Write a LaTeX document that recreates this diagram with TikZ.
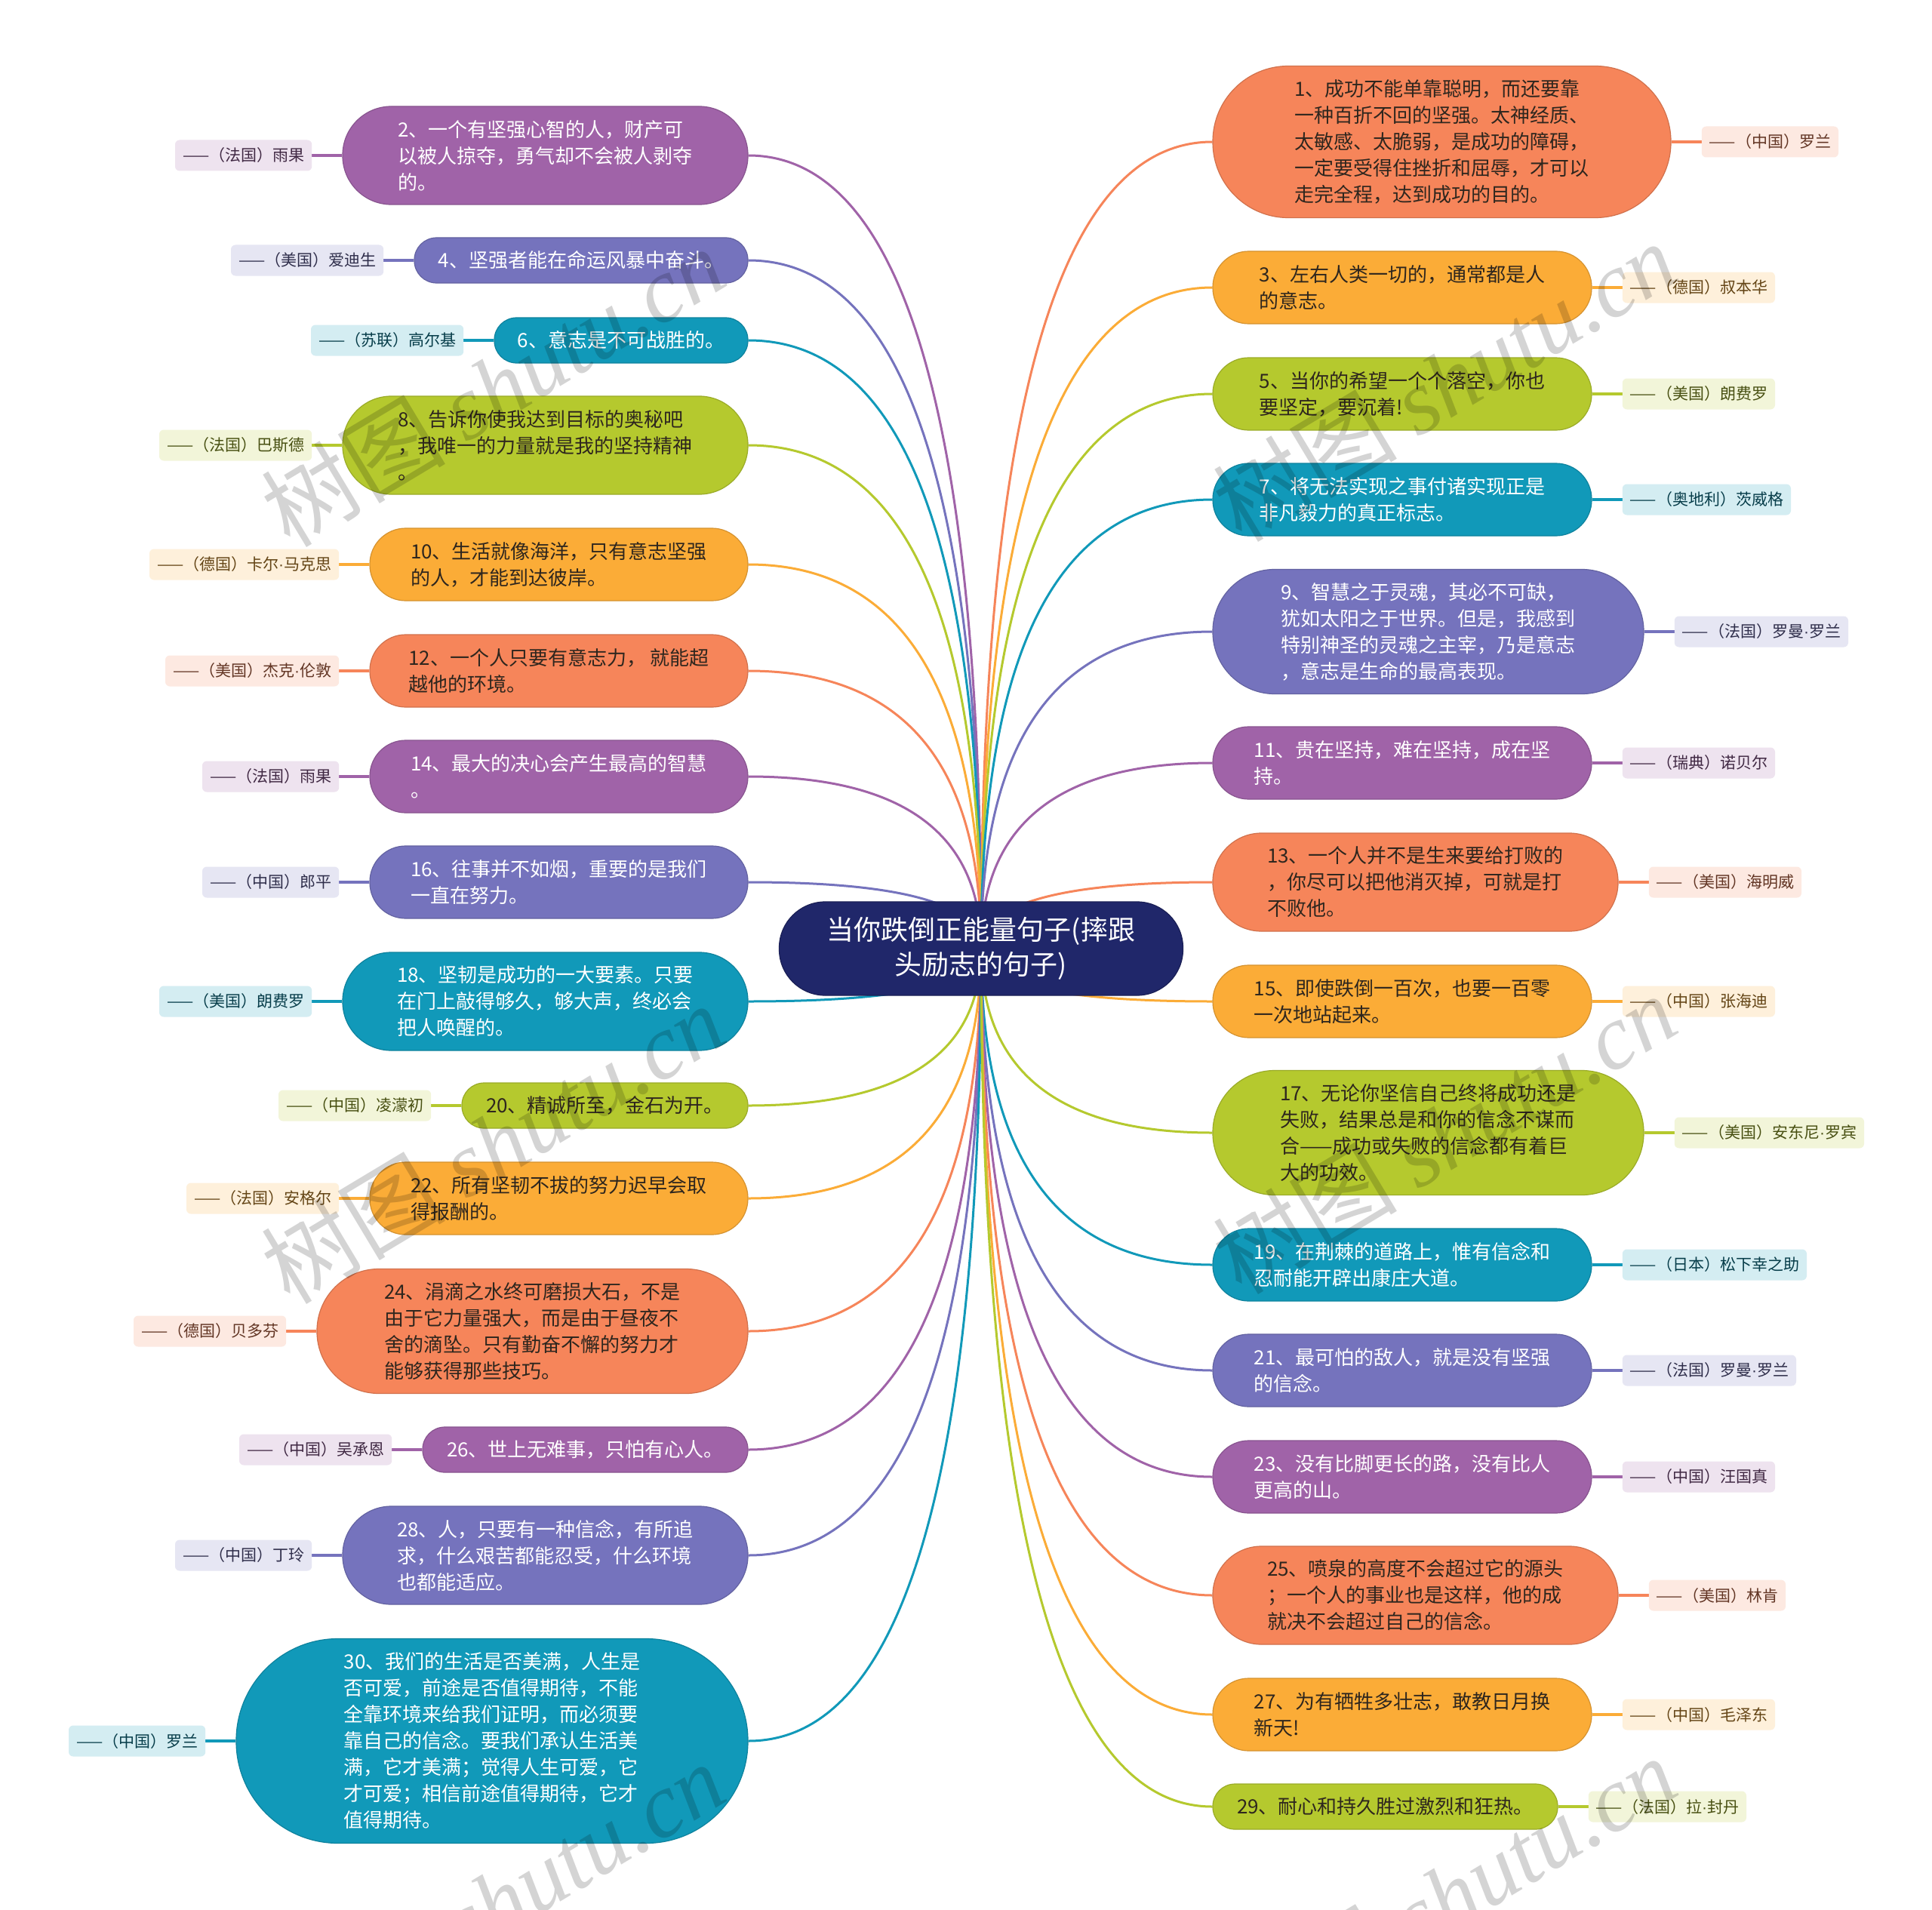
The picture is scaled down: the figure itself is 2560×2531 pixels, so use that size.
\documentclass[tikz,border=0pt]{standalone}
\usepackage{fontspec}
\setmainfont{Noto Sans CJK SC}
\newfontfamily\wmlatin{Liberation Serif}
\newfontfamily\dotfont{Liberation Sans}
\newcommand\md{{\dotfont ·}}
\usetikzlibrary{positioning,calc}
\pgfdeclarelayer{bg}\pgfdeclarelayer{fg}
\pgfsetlayers{bg,main,fg}
\definecolor{cPur}{HTML}{A063A8}
\definecolor{cBpu}{HTML}{7573BD}
\definecolor{cTea}{HTML}{1199B9}
\definecolor{cYgr}{HTML}{B5C92E}
\definecolor{cOye}{HTML}{FBAC37}
\definecolor{cOrg}{HTML}{F6855A}
\definecolor{cNavy}{HTML}{20276A}
\definecolor{cDark}{HTML}{2E261E}
\tikzset{
  bub/.style={fill=#1, draw=#1!85!black, line width=1.2pt, align=left, inner sep=0pt,
    font=\fontsize{26}{35}\selectfont},
  tc-cPur/.style={text=white}, tc-cBpu/.style={text=white}, tc-cTea/.style={text=white},
  tc-cYgr/.style={text=cDark}, tc-cOye/.style={text=cDark}, tc-cOrg/.style={text=cDark},
  hA/.style={minimum height=60, rounded corners=29.5},
  hB/.style={minimum height=96, rounded corners=47.5},
  hC/.style={minimum height=130, rounded corners=64.5},
  hD/.style={minimum height=165, rounded corners=82},
  hE/.style={minimum height=201, rounded corners=100},
  hG/.style={minimum height=271, rounded corners=135},
  lab/.style={fill=#1!18, text=#1!40!black, rounded corners=6, minimum height=41,
    inner xsep=10, inner ysep=0, font=\fontsize{21}{24}\selectfont},
  cv/.style={draw=#1, line width=3pt},
  mm/.style={to path={.. controls ($(\tikztostart)!0.6667!(\tikztostart|-\tikztotarget)$)
     and ($(\tikztotarget)!0.6667!(\tikztostart|-\tikztotarget)$) .. (\tikztotarget)}},
  wm/.style={text=black, text opacity=0.17, font=\fontsize{122}{122}\selectfont, inner sep=0pt}
}
% name, color, cx, cy, width, height style, text, label
\newcommand\leftitem[8]{%
  \node[bub=#2, tc-#2, #6, minimum width=#5] (#1) at (#3,#4) {#7};
  \node[lab=#2, left=40pt of #1] (#1t) {#8};
  \begin{pgfonlayer}{bg}
    \draw[cv=#2] (C.center) to[mm] (#1.east);
    \draw[cv=#2, line width=4pt] (#1.west) -- (#1t.east);
  \end{pgfonlayer}}
\newcommand\rightitem[8]{%
  \node[bub=#2, tc-#2, #6, minimum width=#5] (#1) at (#3,#4) {#7};
  \node[lab=#2, right=40pt of #1] (#1t) {#8};
  \begin{pgfonlayer}{bg}
    \draw[cv=#2] (C.center) to[mm] (#1.west);
    \draw[cv=#2, line width=4pt] (#1.east) -- (#1t.west);
  \end{pgfonlayer}}
\begin{document}
\begin{tikzpicture}[x=1pt, y=-1pt]
\useasboundingbox (0,0) rectangle (2560,2531);
\begin{pgfonlayer}{bg}
\fill[white] (0,0) rectangle (2560,2531);
\end{pgfonlayer}
\node[fill=cNavy, draw=cNavy!80!black, line width=1.2pt, text=white, align=center,
  minimum width=535, minimum height=124, rounded corners=61, inner sep=0pt,
  font=\fontsize{36}{46}\selectfont] (C) at (1300,1257) {当你跌倒正能量句子(摔跟\\头励志的句子)};
% left side
\leftitem{L2}{cPur}{722.5}{206}{537}{hC}{2、一个有坚强心智的人，财产可\\以被人掠夺，勇气却不会被人剥夺\\的。}{——（法国）雨果}
\leftitem{L4}{cBpu}{770}{345}{442}{hA}{4、坚强者能在命运风暴中奋斗。}{——（美国）爱迪生}
\leftitem{L6}{cTea}{823}{451}{336}{hA}{6、意志是不可战胜的。}{——（苏联）高尔基}
\leftitem{L8}{cYgr}{722.5}{590}{537}{hC}{8、告诉你使我达到目标的奥秘吧\\，我唯一的力量就是我的坚持精神\\。}{——（法国）巴斯德}
\leftitem{L10}{cOye}{740.5}{748}{501}{hB}{10、生活就像海洋，只有意志坚强\\的人，才能到达彼岸。}{——（德国）卡尔\md 马克思}
\leftitem{L12}{cOrg}{740.5}{889}{501}{hB}{12、一个人只要有意志力， 就能超\\越他的环境。}{——（美国）杰克\md 伦敦}
\leftitem{L14}{cPur}{740.5}{1029}{501}{hB}{14、最大的决心会产生最高的智慧\\。}{——（法国）雨果}
\leftitem{L16}{cBpu}{740.5}{1169}{501}{hB}{16、往事并不如烟，重要的是我们\\一直在努力。}{——（中国）郎平}
\leftitem{L18}{cTea}{722.5}{1327}{537}{hC}{18、坚韧是成功的一大要素。只要\\在门上敲得够久，够大声，终必会\\把人唤醒的。}{——（美国）朗费罗}
\leftitem{L20}{cYgr}{801.5}{1465}{379}{hA}{20、精诚所至，金石为开。}{——（中国）凌濛初}
\leftitem{L22}{cOye}{740.5}{1588}{501}{hB}{22、所有坚韧不拔的努力迟早会取\\得报酬的。}{——（法国）安格尔}
\leftitem{L24}{cOrg}{705.5}{1764}{571}{hD}{24、涓滴之水终可磨损大石，不是\\由于它力量强大，而是由于昼夜不\\舍的滴坠。只有勤奋不懈的努力才\\能够获得那些技巧。}{——（德国）贝多芬}
\leftitem{L26}{cPur}{775.5}{1921}{431}{hA}{26、世上无难事，只怕有心人。}{——（中国）吴承恩}
\leftitem{L28}{cBpu}{722.5}{2061}{537}{hC}{28、人，只要有一种信念，有所追\\求，什么艰苦都能忍受，什么环境\\也都能适应。}{——（中国）丁玲}
\leftitem{L30}{cTea}{652}{2307}{678}{hG}{30、我们的生活是否美满，人生是\\否可爱，前途是否值得期待，不能\\全靠环境来给我们证明，而必须要\\靠自己的信念。要我们承认生活美\\满，它才美满；觉得人生可爱，它\\才可爱；相信前途值得期待，它才\\值得期待。}{——（中国）罗兰}
% right side
\rightitem{R1}{cOrg}{1910.5}{188}{607}{hE}{1、成功不能单靠聪明，而还要靠\\一种百折不回的坚强。太神经质、\\太敏感、太脆弱，是成功的障碍，\\一定要受得住挫折和屈辱，才可以\\走完全程，达到成功的目的。}{——（中国）罗兰}
\rightitem{R3}{cOye}{1858}{381}{502}{hB}{3、左右人类一切的，通常都是人\\的意志。}{——（德国）叔本华}
\rightitem{R5}{cYgr}{1858}{522}{502}{hB}{5、当你的希望一个个落空，你也\\要坚定，要沉着!}{——（美国）朗费罗}
\rightitem{R7}{cTea}{1858}{662}{502}{hB}{7、将无法实现之事付诸实现正是\\非凡毅力的真正标志。}{——（奥地利）茨威格}
\rightitem{R9}{cBpu}{1892.5}{837}{571}{hD}{9、智慧之于灵魂，其必不可缺，\\犹如太阳之于世界。但是，我感到\\特别神圣的灵魂之主宰，乃是意志\\，意志是生命的最高表现。}{——（法国）罗曼\md 罗兰}
\rightitem{R11}{cPur}{1858}{1011}{502}{hB}{11、贵在坚持，难在坚持，成在坚\\持。}{——（瑞典）诺贝尔}
\rightitem{R13}{cOrg}{1875.5}{1169}{537}{hC}{13、一个人并不是生来要给打败的\\，你尽可以把他消灭掉，可就是打\\不败他。}{——（美国）海明威}
\rightitem{R15}{cOye}{1858}{1327}{502}{hB}{15、即使跌倒一百次，也要一百零\\一次地站起来。}{——（中国）张海迪}
\rightitem{R17}{cYgr}{1892.5}{1501}{571}{hD}{17、无论你坚信自己终将成功还是\\失败，结果总是和你的信念不谋而\\合——成功或失败的信念都有着巨\\大的功效。}{——（美国）安东尼\md 罗宾}
\rightitem{R19}{cTea}{1858}{1676}{502}{hB}{19、在荆棘的道路上，惟有信念和\\忍耐能开辟出康庄大道。}{——（日本）松下幸之助}
\rightitem{R21}{cBpu}{1858}{1816}{502}{hB}{21、最可怕的敌人，就是没有坚强\\的信念。}{——（法国）罗曼\md 罗兰}
\rightitem{R23}{cPur}{1858}{1957}{502}{hB}{23、没有比脚更长的路，没有比人\\更高的山。}{——（中国）汪国真}
\rightitem{R25}{cOrg}{1875.5}{2114}{537}{hC}{25、喷泉的高度不会超过它的源头\\；一个人的事业也是这样，他的成\\就决不会超过自己的信念。}{——（美国）林肯}
\rightitem{R27}{cOye}{1858}{2272}{502}{hB}{27、为有牺牲多壮志，敢教日月换\\新天!}{——（中国）毛泽东}
\rightitem{R29}{cYgr}{1835.5}{2394}{457}{hA}{29、耐心和持久胜过激烈和狂热。}{——（法国）拉\md 封丹}
% watermarks
\begin{pgfonlayer}{fg}
\node[wm, rotate=31] (w1) at (653,512) {树图 {\wmlatin\itshape shutu.cn}};
\node[wm, rotate=31] (w2) at (1914,505) {树图 {\wmlatin\itshape shutu.cn}};
\node[wm, rotate=31] (w3) at (653,1515) {树图 {\wmlatin\itshape shutu.cn}};
\node[wm, rotate=31] (w4) at (1914,1502) {树图 {\wmlatin\itshape shutu.cn}};
\node[wm, rotate=31] (w5) at (653,2520) {树图 {\wmlatin\itshape shutu.cn}};
\node[wm, rotate=31] (w6) at (1914,2512) {树图 {\wmlatin\itshape shutu.cn}};
\end{pgfonlayer}
\end{tikzpicture}
\end{document}
